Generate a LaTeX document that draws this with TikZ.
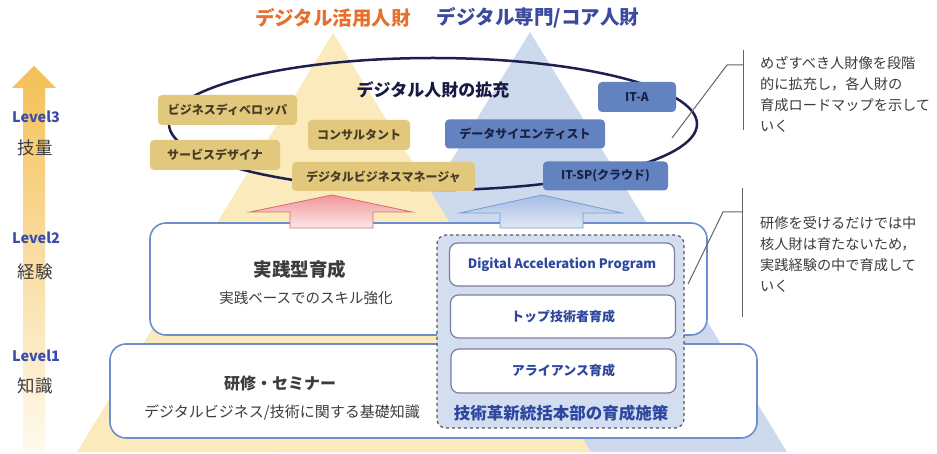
\documentclass[tikz,border=0pt]{standalone}
\usepackage{fontspec}
\setmainfont{Noto Sans CJK JP}
\usetikzlibrary{shapes.geometric}
\definecolor{triY}{RGB}{250,234,188}
\definecolor{triB}{RGB}{205,218,238}
\definecolor{ringC}{RGB}{30,31,79}
\definecolor{tanfill}{RGB}{226,200,125}
\definecolor{tantext}{RGB}{70,60,35}
\definecolor{bluefill}{RGB}{98,130,192}
\definecolor{bluetext}{RGB}{25,33,68}
\definecolor{lvlborder}{RGB}{108,142,207}
\definecolor{dashfill}{RGB}{211,222,240}
\definecolor{innerborder}{RGB}{125,125,160}
\definecolor{deepblue}{RGB}{45,71,160}
\definecolor{lvlblue}{RGB}{58,77,168}
\definecolor{orangeT}{RGB}{232,112,46}
\definecolor{blueT}{RGB}{58,74,156}
\definecolor{grayT}{RGB}{60,60,60}
\definecolor{calloutline}{RGB}{100,100,100}
\definecolor{pinkTop}{RGB}{240,150,155}
\definecolor{pinkBot}{RGB}{252,232,232}
\definecolor{pinkLine}{RGB}{214,110,110}
\definecolor{bluArTop}{RGB}{165,188,228}
\definecolor{bluArBot}{RGB}{224,232,246}
\definecolor{bluArLine}{RGB}{120,152,208}
\definecolor{lvlTop}{RGB}{244,192,85}
\definecolor{lvlBot}{RGB}{255,250,238}
\tikzset{
  tanbox/.style={rounded corners=4pt, fill=tanfill, text=tantext, inner sep=0, minimum height=30pt, font=\fontsize{12}{14}\selectfont\bfseries},
  bluebox/.style={rounded corners=4pt, fill=bluefill, text=bluetext, inner sep=0, minimum height=29pt, font=\fontsize{12}{14}\selectfont\bfseries},
  levelbox/.style={draw=lvlborder, line width=1.6pt, rounded corners=16pt, fill=white, inner sep=0},
  innerbox/.style={draw=innerborder, line width=1.2pt, rounded corners=8pt, fill=white, inner sep=0, minimum width=225pt, minimum height=43pt, text=deepblue, font=\fontsize{13}{15}\selectfont\bfseries},
  lvllabel/.style={text=lvlblue, font=\fontsize{14.5}{16}\selectfont\bfseries, inner sep=0},
  lvlword/.style={text=grayT, font=\fontsize{17.5}{19}\selectfont, inner sep=0},
  callout/.style={draw=calloutline, line width=1pt},
  callouttext/.style={text=grayT, align=left, anchor=west, inner sep=0, font=\fontsize{14.2}{21}\selectfont},
}
\begin{document}
\begin{tikzpicture}[x=1pt,y=-1pt]
\useasboundingbox (0,0) rectangle (937,454);
\fill[white] (0,0) rectangle (937,454);
% triangles
\fill[triB] (273,452) -- (530,32) -- (787,452) -- cycle;
\fill[triY] (77,452) -- (333,33) -- (591,452) -- cycle;
% titles
\node[text=orangeT, font=\fontsize{19.5}{21}\selectfont\bfseries, inner sep=0] (titleY) at (333,18) {デジタル活用人財};
\node[text=blueT, font=\fontsize{19.5}{21}\selectfont\bfseries, inner sep=0] (titleB) at (538,18) {デジタル専門/コア人財};
% level arrow
\shade[top color=lvlTop, bottom color=lvlBot] (23,452) -- (23,88) -- (12,88) -- (34,66) -- (56,88) -- (45,88) -- (45,452) -- cycle;
\node[lvllabel] (lv3) at (36,117) {Level3};
\node[lvlword] (lv3w) at (35,148) {技量};
\node[lvllabel] (lv2) at (36,238) {Level2};
\node[lvlword] (lv2w) at (35,272) {経験};
\node[lvllabel] (lv1) at (36,356) {Level1};
\node[lvlword] (lv1w) at (35,386) {知識};
% ring
\node[ellipse, draw=ringC, line width=2.5pt, minimum width=528pt, minimum height=132pt, inner sep=0] (ring) at (433,124) {};
\node[text=ringC!85!black, font=\fontsize{17}{19}\selectfont\bfseries, inner sep=0] (ringtitle) at (433,90) {デジタル人財の拡充};
% tan boxes
\node[tanbox, minimum width=139pt] (bizdev) at (227.5,110) {ビジネスディベロッパ};
\node[tanbox, minimum width=130pt] (svc) at (215,155) {サービスデザイナ};
\node[tanbox, minimum width=102pt] (consult) at (359,135) {コンサルタント};
\node[tanbox, minimum width=183pt, minimum height=29pt] (dbm) at (383.5,176.5) {デジタルビジネスマネージャ};
% blue boxes
\node[bluebox, minimum width=78pt, minimum height=30pt] (ita) at (637,97) {IT-A};
\node[bluebox, minimum width=160pt] (ds) at (525,134) {データサイエンティスト};
\node[bluebox, minimum width=125pt] (itsp) at (605.5,176) {IT-SP(クラウド)};
% level boxes
\node[levelbox, minimum width=557pt, minimum height=112pt] (lvl2box) at (428.5,279) {};
\node[levelbox, minimum width=647pt, minimum height=94pt] (lvl1box) at (433.5,391) {};
\node[text=grayT, font=\fontsize{18.5}{20}\selectfont\bfseries, inner sep=0] (lvl2title) at (300,269) {実践型育成};
\node[text=grayT, font=\fontsize{14.5}{16}\selectfont, inner sep=0] (lvl2sub) at (306,298) {実践ベースでのスキル強化};
\node[text=grayT, font=\fontsize{16}{18}\selectfont\bfseries, inner sep=0] (lvl1title) at (280,383) {研修・セミナー};
\node[text=grayT, font=\fontsize{15}{17}\selectfont, inner sep=0] (lvl1sub) at (282,412) {デジタルビジネス/技術に関する基礎知識};
% arrows
\draw[draw=pinkLine, line width=0.8pt, top color=pinkTop, bottom color=pinkBot] (250,212) -- (332,195) -- (412,212) -- (373,212) -- (373,228) -- (290,228) -- (290,212) -- cycle;
\draw[draw=bluArLine, line width=0.8pt, top color=bluArTop, bottom color=bluArBot] (460,213) -- (542,195) -- (622,213) -- (583,213) -- (583,228) -- (500,228) -- (500,213) -- cycle;
% dashed program box
\node[draw=black!65, dashed, line width=1.2pt, fill=dashfill, rounded corners=9pt, minimum width=247pt, minimum height=193pt, inner sep=0] (prog) at (560.5,331.5) {};
\node[innerbox] (dap) at (562,264.5) {Digital Acceleration Program};
\node[innerbox] (topeng) at (563,316.5) {トップ技術者育成};
\node[innerbox, minimum height=44pt] (alliance) at (563.5,371) {アライアンス育成};
\node[text=deepblue, font=\fontsize{16.5}{18}\selectfont\bfseries, inner sep=0] (progtitle) at (561,413) {技術革新統括本部の育成施策};
% callouts
\coordinate (c1top) at (743,50);
\coordinate (c1bot) at (743,130);
\coordinate (c1k) at (727,65);
\coordinate (c1j) at (743,65);
\coordinate (c1end) at (672,138);
\draw[callout] (c1top) -- (c1bot);
\draw[callout] (c1end) -- (c1k) -- (c1j);
\node[callouttext] (c1text) at (760,94) {めざすべき人財像を段階\\的に拡充し，各人財の\\育成ロードマップを示して\\いく};
\coordinate (c2top) at (742,188);
\coordinate (c2bot) at (742,317);
\coordinate (c2k) at (723,212);
\coordinate (c2j) at (742,212);
\coordinate (c2end) at (688,284);
\draw[callout] (c2top) -- (c2bot);
\draw[callout] (c2end) -- (c2k) -- (c2j);
\node[callouttext] (c2text) at (760,254) {研修を受けるだけでは中\\核人財は育たないため，\\実践経験の中で育成して\\いく};
\end{tikzpicture}
\end{document}
